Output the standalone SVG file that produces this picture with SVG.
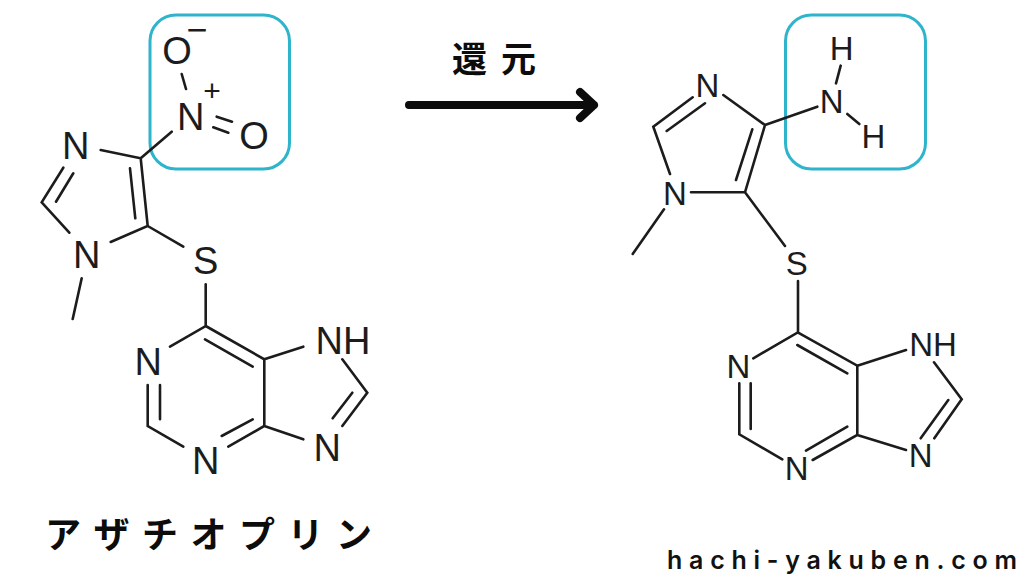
<svg xmlns="http://www.w3.org/2000/svg" width="1024" height="576" viewBox="0 0 1024 576">
<style>
.b{stroke:#1c1c1c;stroke-width:2.6;stroke-linecap:round;fill:none}
.hl{fill:none;stroke:#2eb4cb;stroke-width:3}
.a{font-family:"Liberation Sans",Arial,sans-serif;fill:#1c1c1c;text-anchor:middle}
.l{font-size:38px}
.r{font-size:33px}
.jp{font-family:"Noto Sans CJK JP",sans-serif;font-weight:700;fill:#0c0c0c}
</style>
<rect width="1024" height="576" fill="#fff"/>
<g id="highlights">
<rect id="box-no2" class="hl" x="150" y="15" width="139.500" height="154" rx="26"/>
<rect id="box-nh2" class="hl" x="785.500" y="15" width="140" height="154" rx="26"/>
</g>
<g id="connectors">
<path class="b" d="M181.700 74L186 89M216.700 116.700L232 121.700M213.300 127.300L228.300 132.700M140.700 158.300L171.700 131.700M100.700 150L140.700 158.300L147.700 226L110.700 242M130 168.300L135.300 218.300M147.700 226L183.300 246.700M69.300 232.700L41.700 202.300L63.300 167.700M56 201.700L73.300 173.300M81.700 278.300L72.700 319M205.700 284.300V326L170 346.700M205.700 326L264.300 359.300V426L228.300 446.700M205 339.300L252.700 366.700M221.700 436L252.700 419.300M147.700 385V426L183.300 446.700M160 385V419.300M264.300 359.300L303.300 346.700M342.300 359.300L367.300 392.700L342.300 426M352.300 392.700L332.700 418.300M264.300 426L303.300 439.300"/>
<path class="b" d="M840.700 65.700L836 83.300M847.300 114L859.300 124M765 125L817.300 106.700M723.300 95L765 125L745 192.300H691M692.700 97.300L653.300 126.700L670 174M705 103.300L666.700 131M736 180L752.300 129.300M664 209.300L632.700 254M745 192.300L785 246M798 281V332.300L753.300 358.300M797.700 332.300L857.300 365.700V435L812.700 460M797.300 345L847.300 373.300M806 450.700L847.300 426.700M739.300 383.300V434.300L782.300 459.300M750.700 383.300V429M857.300 365.700L906 350M934 362.300L961.700 399.300L934.300 438.300M948.300 400L920.700 438.300M857.300 435L906 450"/>
<path id="reaction-arrow" d="M409 105H594M580 92L594 105L580 118" fill="none" stroke="#0c0c0c" stroke-width="8" stroke-linecap="round" stroke-linejoin="round"/>
</g>
<g id="azathioprine">
<g id="l-o-minus"><text class="a l" x="177" y="64">O</text><text class="a" x="197" y="42" font-size="36">−</text></g>
<g id="l-n-plus"><text class="a l" x="190.700" y="130">N</text><text class="a" x="212" y="101" font-size="30">+</text></g>
<g id="l-o"><text class="a l" x="254" y="149">O</text></g>
<g id="l-n3"><text class="a l" x="75.700" y="159">N</text></g>
<g id="l-n1"><text class="a l" x="86.700" y="268">N</text></g>
<g id="l-s"><text class="a l" x="205.700" y="274">S</text></g>
<g id="l-n-a"><text class="a l" x="148.300" y="375">N</text></g>
<g id="l-n-b"><text class="a l" x="205.700" y="474">N</text></g>
<g id="l-nh"><text class="a l" x="343" y="354">NH</text></g>
<g id="l-n-c"><text class="a l" x="327.300" y="461">N</text></g>
</g>
<g id="reduced">
<g id="r-h1"><text class="a r" x="841.700" y="60">H</text></g>
<g id="r-n-amine"><text class="a r" x="831.700" y="113">N</text></g>
<g id="r-h2"><text class="a r" x="873.300" y="148">H</text></g>
<g id="r-n3"><text class="a r" x="707.300" y="97">N</text></g>
<g id="r-n1"><text class="a r" x="675" y="204.500">N</text></g>
<g id="r-s"><text class="a r" x="796.700" y="275">S</text></g>
<g id="r-n-a"><text class="a r" x="738.300" y="378">N</text></g>
<g id="r-n-b"><text class="a r" x="796.700" y="480">N</text></g>
<g id="r-nh"><text class="a r" x="933" y="356">NH</text></g>
<g id="r-n-c"><text class="a r" x="920.700" y="467">N</text></g>
</g>
<g id="labels">
<text class="jp" x="452" y="72" font-size="35" letter-spacing="14">還元</text>
<text class="jp" x="45" y="548" font-size="36" letter-spacing="12.500" font-weight="500">アザチオプリン</text>
<text x="667" y="569" font-family="Inter,Lato,sans-serif" font-weight="600" font-size="25" fill="#111" textLength="350" lengthAdjust="spacing">hachi-yakuben.com</text>
</g>
</svg>
